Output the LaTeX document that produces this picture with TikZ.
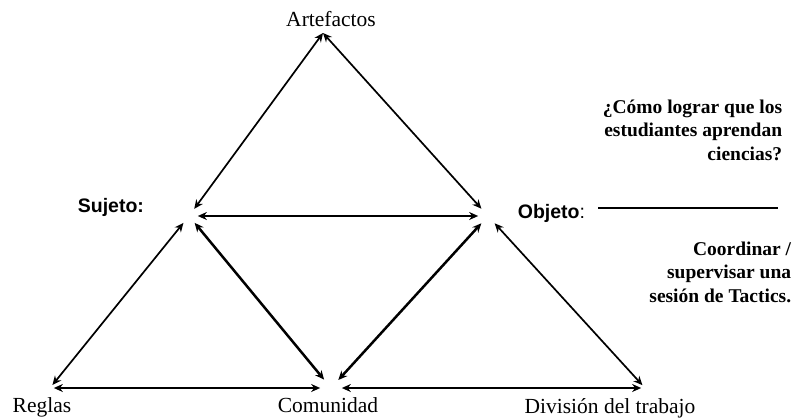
\documentclass[tikz,border=0pt]{standalone}
\usepackage{fontspec}
\setmainfont{Liberation Serif}
\setsansfont{Liberation Sans}
\usetikzlibrary{arrows.meta}
\tikzset{every path/.style={line width=1.7pt},
  dbl/.style={{Stealth[length=9pt,width=8pt]}-{Stealth[length=9pt,width=8pt]}},
  inner/.style={line width=2.5pt},
  vert/.style={circle,inner sep=0pt,minimum size=#1},
  lbl/.style={font=\fontsize{21.5}{24}\selectfont,anchor=base},
  note/.style={font=\fontsize{19.5}{23.5}\selectfont\bfseries,align=right,anchor=base east,inner sep=0pt},
  role/.style={font=\sffamily\bfseries\fontsize{19.5}{22}\selectfont,anchor=base west,inner sep=0pt}}

\begin{document}
\begin{tikzpicture}[x=1pt,y=-1pt]
\useasboundingbox (0,0) rectangle (794,418);
% corners of the two triangles
\coordinate (art) at (323,33);
\node[vert=16pt] (suj) at (189,216) {};
\node[vert=18pt] (obj) at (488,216) {};
\node[vert=20pt] (com) at (331,388) {};
\node[vert=6pt] (reg) at (50,388) {};
\node[vert=6pt] (div) at (645,388) {};
% labels
\node[lbl] (artl) at (331,26) {Artefactos};
\node[lbl] (regl) at (42,412) {Reglas};
\node[lbl] (coml) at (328,412) {Comunidad};
\node[lbl] (divl) at (610,413) {División del trabajo};
\node[role] (sujl) at (77,212) {Sujeto:};
\node[role] (objl) at (517,218) {Objeto\mdseries:};
\coordinate (objbeg) at (598,208);
\coordinate (objend) at (778,208);
\draw[line width=2pt] (objbeg) -- (objend);
\node[note] (preg) at (783,160) {¿Cómo lograr que los\\estudiantes aprendan\\ciencias?};
\node[note] (tarea) at (792,302) {Coordinar /\\supervisar una\\sesión de Tactics.};
% arrows
\draw[dbl] (art) -- (suj);
\draw[dbl] (art) -- (obj);
\draw[dbl,inner] (suj) -- (obj);
\draw[dbl] (suj) -- (reg);
\draw[dbl,inner] (suj) -- (com);
\draw[dbl,inner] (com) -- (obj);
\draw[dbl] (obj) -- (div);
\draw[dbl] (reg) -- (com);
\draw[dbl] (com) -- (div);
\end{tikzpicture}
\end{document}
